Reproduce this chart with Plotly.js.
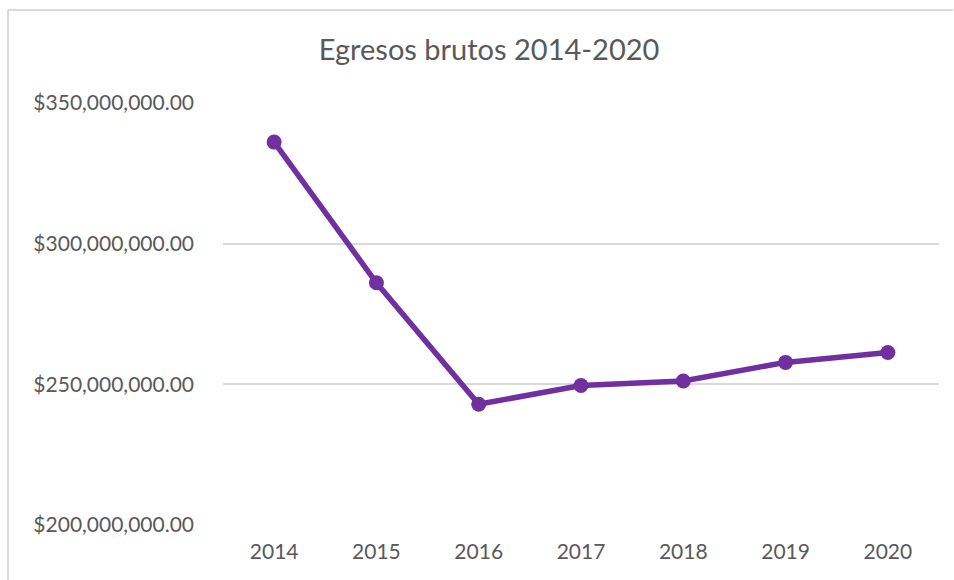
<!DOCTYPE html>
<html>
<head>
<meta charset="utf-8">
<script src="https://cdn.plot.ly/plotly-3.0.1.min.js"></script>
<style>html,body{margin:0;padding:0;background:#fff;}#chart{width:954px;height:580px;}</style>
</head>
<body>
<div id="chart"></div>
<script>
const years = ['2014', '2015', '2016', '2017', '2018', '2019', '2020'];
const egresos = [336100000, 286100000, 242900000, 249600000, 251200000, 257800000, 261300000];
const yTicks = [200000000, 250000000, 300000000, 350000000];
const yTickLabels = ['$200,000,000.00', '$250,000,000.00', '$300,000,000.00', '$350,000,000.00'];
const chartTitle = 'Egresos brutos 2014-2020';

const textColor = '#595959';
const fontFamily = 'Lato, "Open Sans", sans-serif';

const trace = {
  x: years,
  y: egresos,
  type: 'scatter',
  mode: 'lines+markers',
  line: {color: '#7030A0', width: 5.5},
  marker: {color: '#7030A0', size: 15},
  cliponaxis: false,
  hoverinfo: 'x+y'
};

const L = 223, R = 15, T = 103, B = 55;
const pw = 954 - L - R, ph = 580 - T - B;
const px2x = p => (p - L) / pw;
const py2y = p => 1 - (p - T) / ph;

const layout = {
  width: 954,
  height: 580,
  margin: {l: L, r: R, t: T, b: B},
  paper_bgcolor: '#ffffff',
  plot_bgcolor: '#ffffff',
  showlegend: false,
  title: {
    text: chartTitle,
    font: {family: fontFamily, size: 29, color: textColor},
    x: 489 / 954, xref: 'container', xanchor: 'center',
    y: 1 - 50 / 580, yref: 'container', yanchor: 'middle'
  },
  xaxis: {
    type: 'category',
    range: [-0.5, 6.5],
    showgrid: false,
    zeroline: false,
    showline: false,
    ticks: '',
    ticklabelstandoff: 12,
    tickfont: {family: fontFamily, size: 21, color: textColor},
    fixedrange: true
  },
  yaxis: {
    range: [200000000, 350000000],
    tickmode: 'array',
    tickvals: yTicks,
    ticktext: yTickLabels,
    showgrid: true,
    gridcolor: '#d9d9d9',
    gridwidth: 1.5,
    zeroline: false,
    showline: false,
    ticks: '',
    ticklabelstandoff: 28,
    tickfont: {family: fontFamily, size: 21, color: textColor},
    fixedrange: true
  },
  shapes: [
    {type: 'line', xref: 'paper', yref: 'paper', x0: px2x(8), x1: px2x(8), y0: py2y(10), y1: py2y(585), line: {color: '#d9d9d9', width: 2}},
    {type: 'line', xref: 'paper', yref: 'paper', x0: px2x(8), x1: px2x(953), y0: py2y(10), y1: py2y(10), line: {color: '#d9d9d9', width: 2}}
  ]
};

Plotly.newPlot('chart', [trace], layout, {displayModeBar: false});
</script>
</body>
</html>
